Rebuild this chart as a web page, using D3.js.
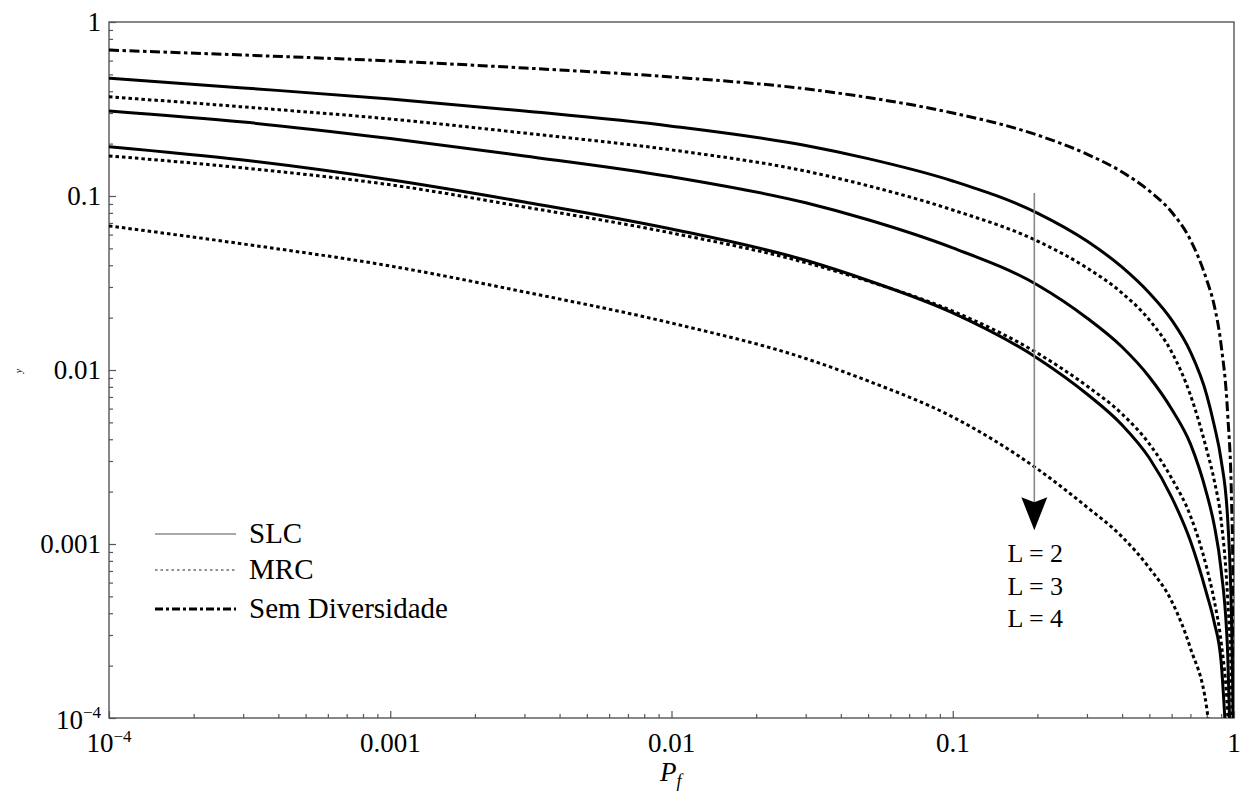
<!DOCTYPE html>
<html><head><meta charset="utf-8">
<script src="https://cdn.jsdelivr.net/npm/d3@7"></script>
<style>
body{margin:0;background:#fff}
text{font-family:"Liberation Serif","Times New Roman",serif;fill:#000}
</style>
</head><body>
<svg id="c" width="1245" height="794"></svg>
<script>
// ---- data ----
const pf = [1e-4, 3e-4, 1e-3, 3e-3, 0.01, 0.03, 0.05, 0.1, 0.2, 0.3, 0.4, 0.5, 0.6, 0.7, 0.8, 0.85, 0.9, 0.95, 0.98, 0.99, 0.999];
const semDiv = [0.690, 0.646, 0.597, 0.544, 0.483, 0.413, 0.368, 0.300, 0.224, 0.174, 0.1374, 0.1069, 0.0809, 0.0559, 0.0329, 0.0236, 0.0139, 0.00551, 0.00179, 0.000748, 0.00005];
const slc2 = [0.475, 0.418, 0.361, 0.308, 0.252, 0.195, 0.164, 0.122, 0.0798, 0.0551, 0.0390, 0.0277, 0.0194, 0.0127, 0.00718, 0.00483, 0.00304, 0.00137, 0.000366, 0.000145, 0.00003];
const mrc2 = [0.372, 0.325, 0.277, 0.230, 0.184, 0.139, 0.1145, 0.0831, 0.0551, 0.0386, 0.0277, 0.0194, 0.0127, 0.00718, 0.00347, 0.00233, 0.00137, 0.000476, 0.000145, 0.00005, 0.00001];
const slc3 = [0.308, 0.266, 0.214, 0.170, 0.129, 0.0914, 0.0730, 0.0503, 0.0308, 0.0199, 0.01355, 0.00912, 0.00597, 0.00376, 0.00194, 0.00129, 0.000709, 0.000230, 0.00004, 0.00002, 0.00001];
const mrc3 = [0.170, 0.145, 0.116, 0.0865, 0.0613, 0.0414, 0.0324, 0.0218, 0.0125, 0.00809, 0.00559, 0.00376, 0.00239, 0.00145, 0.000728, 0.000476, 0.000273, 0.000104, 0.00003, 0.00002, 0.00001];
const slc4 = [0.192, 0.161, 0.124, 0.0924, 0.0646, 0.0427, 0.0327, 0.0213, 0.0117, 0.00728, 0.00483, 0.00312, 0.00186, 0.00104, 0.000516, 0.000356, 0.000210, 0.00005, 0.00002, 0.00001, 0.000005];
const mrc4 = [0.0673, 0.0530, 0.0396, 0.0281, 0.0186, 0.01164, 0.00865, 0.00537, 0.00270, 0.00163, 0.00110, 0.000728, 0.000470, 0.000252, 0.000114, 0.00005, 0.00003, 0.00002, 0.00001, 0.000005, 0.000002];

const majorTicks = [1e-4, 1e-3, 1e-2, 1e-1, 1];
const xTickLabels = [["10","\u22124"], ["0.001"], ["0.01"], ["0.1"], ["1"]];
const yTickLabels = [["10","\u22124"], ["0.001"], ["0.01"], ["0.1"], ["1"]];
const legendLabels = ["SLC", "MRC", "Sem Diversidade"];
const arrowLabels = ["L = 2", "L = 3", "L = 4"];
const arrowPf = 0.195, arrowTop = 0.104, arrowTip = 0.0012;

// ---- layout ----
const L = 109, R = 1234, T = 22, B = 718;
const svg = d3.select("#c");
const x = d3.scaleLog().domain([1e-4, 1]).range([L, R]);
const y = d3.scaleLog().domain([1e-4, 1]).range([B, T]);

svg.append("defs").append("clipPath").attr("id","clip")
  .append("rect").attr("x", L).attr("y", T).attr("width", R - L).attr("height", B - T);

const minor = [];
for (let e = -4; e < 0; e++) for (let k = 2; k <= 9; k++) minor.push(k * Math.pow(10, e));

const axisCol = "#555";
const gy = svg.append("g").attr("transform", `translate(${L},0)`);
gy.call(d3.axisRight(y).tickValues(minor).tickSize(4).tickFormat(""));
gy.call(g => g.select(".domain").remove());
const gy2 = svg.append("g").attr("transform", `translate(${L},0)`);
gy2.call(d3.axisRight(y).tickValues(majorTicks).tickSize(7).tickFormat(""));
gy2.call(g => g.select(".domain").remove());
const gx = svg.append("g").attr("transform", `translate(0,${B})`);
gx.call(d3.axisTop(x).tickValues(minor).tickSize(4).tickFormat(""));
gx.call(g => g.select(".domain").remove());
const gx2 = svg.append("g").attr("transform", `translate(0,${B})`);
gx2.call(d3.axisTop(x).tickValues(majorTicks).tickSize(7).tickFormat(""));
gx2.call(g => g.select(".domain").remove());
svg.selectAll(".tick line").attr("stroke", axisCol).attr("stroke-width", 1.2);

svg.append("rect").attr("x", L).attr("y", T).attr("width", R - L).attr("height", B - T)
  .attr("fill", "none").attr("stroke", axisCol).attr("stroke-width", 1.4);

const FS = 27;
majorTicks.forEach((v, i) => {
  const lab = yTickLabels[i];
  const t = svg.append("text").attr("x", 101).attr("y", y(v) + 9).attr("text-anchor", "end").attr("font-size", FS);
  if (lab.length === 1) t.text(lab[0]);
  else { t.attr("y", y(v) + 11); t.append("tspan").text(lab[0]); t.append("tspan").attr("font-size", 17).attr("dy", -11).text(lab[1]); }
});
majorTicks.forEach((v, i) => {
  const lab = xTickLabels[i];
  const t = svg.append("text").attr("x", x(v)).attr("y", 752).attr("text-anchor", "middle").attr("font-size", FS);
  if (lab.length === 1) t.text(lab[0]);
  else { t.append("tspan").text(lab[0]); t.append("tspan").attr("font-size", 17).attr("dy", -10).text(lab[1]); }
});

const xt = svg.append("text").attr("x", 660).attr("y", 781).attr("font-size", 27).attr("font-style", "italic");
xt.append("tspan").text("P");
xt.append("tspan").attr("font-size", 18).attr("dy", 6).text("f");
svg.append("text").attr("transform", "translate(22,371) rotate(-90)").attr("font-size", 10)
  .attr("font-style", "italic").attr("text-anchor", "middle").text("y");

const line = d3.line().x((d, i) => x(pf[i])).y(d => y(d)).curve(d3.curveMonotoneX);
const styles = {
  solid: {dash: null},
  dotted: {dash: "3.5,3"},
  dashdot: {dash: "10,3.5,3.5,3.5"}
};
const series = [
  {v: semDiv, s: "dashdot"},
  {v: slc2, s: "solid"}, {v: mrc2, s: "dotted"},
  {v: slc3, s: "solid"}, {v: mrc3, s: "dotted"},
  {v: slc4, s: "solid"}, {v: mrc4, s: "dotted"}
];
const gc = svg.append("g").attr("clip-path", "url(#clip)");
series.forEach(sr => {
  gc.append("path").attr("d", line(sr.v)).attr("fill", "none").attr("stroke", "#000")
    .attr("stroke-width", 3).attr("stroke-dasharray", styles[sr.s].dash).attr("stroke-linejoin", "round");
});

const legY = [534, 570, 609];
const legStyle = [
  {w: 1.2, c: "#555", d: null},
  {w: 1.2, c: "#222", d: "2.5,3"},
  {w: 3, c: "#000", d: "8,3,3,3"}
];
legendLabels.forEach((lab, i) => {
  svg.append("line").attr("x1", 155).attr("x2", 236).attr("y1", legY[i]).attr("y2", legY[i])
    .attr("stroke", legStyle[i].c).attr("stroke-width", legStyle[i].w).attr("stroke-dasharray", legStyle[i].d);
  svg.append("text").attr("x", 249).attr("y", legY[i] + 9).attr("font-size", 29).text(lab);
});

const ax = x(arrowPf);
const tipY = y(arrowTip);
svg.append("line").attr("x1", ax).attr("x2", ax).attr("y1", y(arrowTop)).attr("y2", tipY - 20)
  .attr("stroke", "#888").attr("stroke-width", 1.6);
svg.append("path").attr("d", `M${ax - 13},${tipY - 33} L${ax},${tipY - 28} L${ax + 13},${tipY - 33} L${ax},${tipY} Z`)
  .attr("fill", "#000");
arrowLabels.forEach((lab, i) => {
  svg.append("text").attr("x", ax + 1).attr("y", 562 + i * 32.5).attr("text-anchor", "middle").attr("font-size", 26).text(lab);
});
</script>
</body></html>
